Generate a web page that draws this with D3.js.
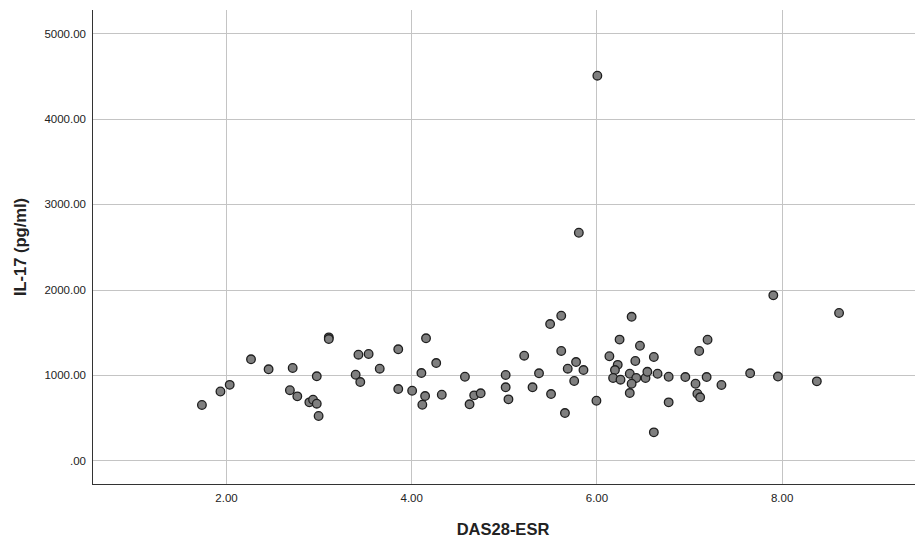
<!DOCTYPE html>
<meta charset="utf-8">
<style>
  body { margin: 0; background: #fff; }
  text { font-family: "Liberation Sans", Arial, sans-serif; fill: #222; }
  .tick text { font-size: 11.5px; }
  .grid line { stroke: #c4c4c4; stroke-width: 1px; }
  .title { font-size: 16.5px; font-weight: bold; text-anchor: middle; }
</style>
<body>
<script src="https://d3js.org/d3.v7.min.js"></script>
<script>

var width = 915,
    height = 541;

// DAS28-ESR (x) and IL-17 pg/ml (y)
var das28 = [1.74, 1.94, 2.04, 2.27, 2.46, 2.72, 2.69, 2.77, 2.90, 2.94,
  2.98, 3.00, 2.98, 3.11, 3.11, 3.43, 3.54, 3.40, 3.45, 3.66,
  3.86, 3.86, 4.01, 4.11, 4.16, 4.15, 4.12, 4.27, 4.33, 4.58,
  4.68, 4.75, 4.63, 5.02, 5.02, 5.05, 5.22, 5.31, 5.38, 5.50,
  5.62, 5.62, 5.51, 5.69, 5.78, 5.86, 5.76, 5.66, 6.00, 6.14,
  6.25, 6.23, 6.20, 6.18, 6.26, 6.38, 6.47, 6.36, 6.42, 6.43,
  6.38, 6.36, 6.53, 6.55, 6.62, 6.66, 6.62, 6.78, 6.78, 6.96,
  7.07, 7.09, 7.12, 7.11, 7.20, 7.19, 7.35, 7.66, 7.91, 7.96,
  8.62, 8.38, 6.01, 5.81];

var il17 = [648, 806, 884, 1183, 1066, 1081, 821, 749, 679, 710,
  663, 519, 984, 1440, 1420, 1237, 1245, 1002, 917, 1073,
  1300, 835, 815, 1022, 1429, 753, 651, 1139, 768, 979,
  761, 785, 656, 999, 855, 714, 1225, 855, 1019, 1596,
  1693, 1280, 776, 1073, 1151, 1057, 929, 554, 698, 1219,
  1414, 1118, 1057, 964, 944, 1681, 1342, 1014, 1163, 964,
  897, 788, 964, 1037, 1210, 1014, 328, 979, 679, 975,
  897, 780, 738, 1280, 1412, 975, 882, 1019, 1932, 981,
  1725, 925, 4504, 2665];

var xTicks = [2, 4, 6, 8],
    yTicks = [0, 1000, 2000, 3000, 4000, 5000];

var plot = { left: 92, right: 915, top: 10, bottom: 484 };

var svg = d3.select("body").append("svg")
  .attr("width", width)
  .attr("height", height);

var x = d3.scaleLinear()
  .domain([0.553, 9.44])
  .range([plot.left, plot.right]);

var y = d3.scaleLinear()
  .domain([-277, 5273])
  .range([plot.bottom, plot.top]);

// gridlines
svg.append("g")
  .attr("class", "grid")
  .selectAll("line.h")
  .data(yTicks)
  .enter().append("line")
    .attr("x1", plot.left)
    .attr("x2", plot.right)
    .attr("y1", function(d) { return Math.round(y(d)) + 0.5; })
    .attr("y2", function(d) { return Math.round(y(d)) + 0.5; });

svg.append("g")
  .attr("class", "grid")
  .selectAll("line.v")
  .data(xTicks)
  .enter().append("line")
    .attr("y1", plot.top)
    .attr("y2", plot.bottom)
    .attr("x1", function(d) { return Math.round(x(d)) + 0.5; })
    .attr("x2", function(d) { return Math.round(x(d)) + 0.5; });

// axes
var fmt = function(d) { return d === 0 ? ".00" : d3.format(".2f")(d); };

var yAxis = svg.append("g")
  .attr("transform", "translate(" + plot.left + ",0)")
  .call(d3.axisLeft(y).tickValues(yTicks).tickFormat(fmt).tickSize(0).tickPadding(6));

var xAxis = svg.append("g")
  .attr("transform", "translate(0," + plot.bottom + ")")
  .call(d3.axisBottom(x).tickValues(xTicks).tickFormat(fmt).tickSize(0).tickPadding(10));

yAxis.select(".domain").remove();
xAxis.select(".domain").remove();
svg.selectAll(".tick text").attr("fill", "#222");

svg.append("line")
  .attr("x1", plot.left + 0.5).attr("x2", plot.left + 0.5)
  .attr("y1", plot.top).attr("y2", plot.bottom + 1)
  .attr("stroke", "#333");

svg.append("line")
  .attr("x1", plot.left).attr("x2", plot.right)
  .attr("y1", plot.bottom + 0.5).attr("y2", plot.bottom + 0.5)
  .attr("stroke", "#333");

// points
svg.append("g")
  .selectAll("circle")
  .data(d3.range(das28.length))
  .enter().append("circle")
    .attr("cx", function(i) { return x(das28[i]); })
    .attr("cy", function(i) { return y(il17[i]); })
    .attr("r", 4.3)
    .attr("fill", "#7f7f7f")
    .attr("stroke", "#1e1e1e")
    .attr("stroke-width", 1.3);

// titles
svg.append("text")
  .attr("class", "title")
  .attr("x", 503)
  .attr("y", 535)
  .text("DAS28-ESR");

svg.append("text")
  .attr("class", "title")
  .attr("transform", "translate(26,247) rotate(-90)")
  .text("IL-17 (pg/ml)");

</script>
